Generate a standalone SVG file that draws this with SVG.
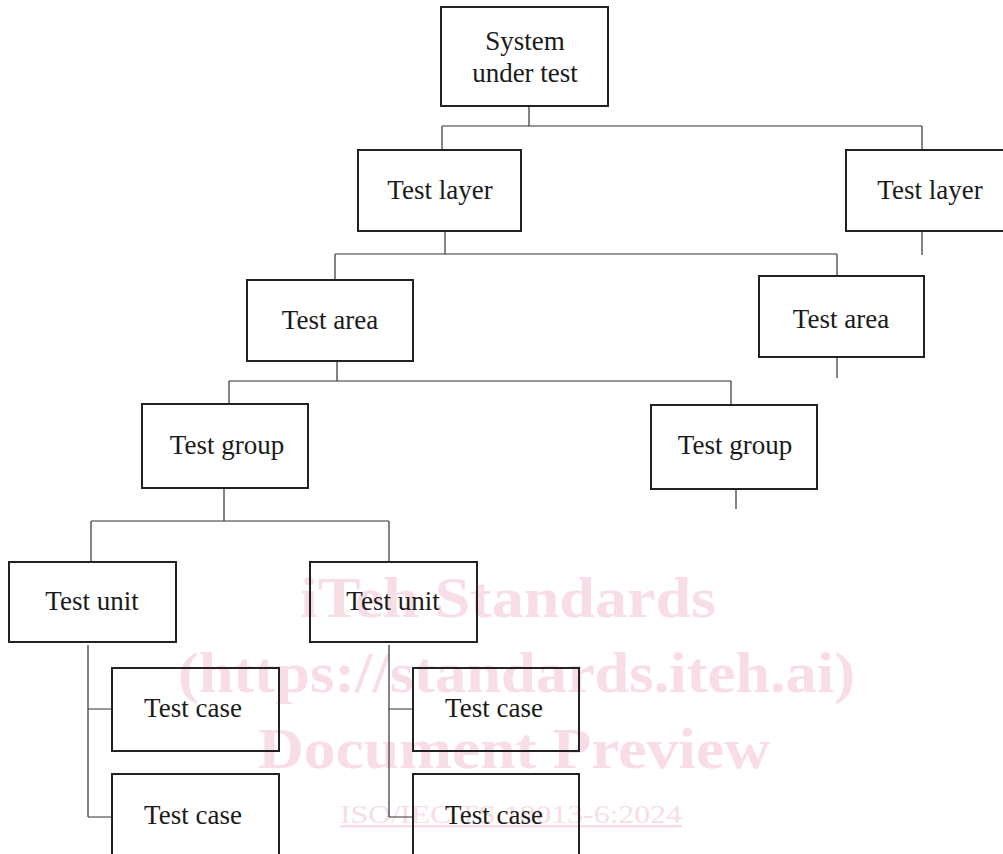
<svg xmlns="http://www.w3.org/2000/svg" width="1003" height="854" viewBox="0 0 1003 854">
<style>
.box{fill:none;stroke:#222;stroke-width:2}
.lbl{font-family:"Liberation Serif","Times New Roman",serif;font-size:27px;fill:#1a1a1a;text-anchor:middle}
.con{fill:none;stroke:#333;stroke-width:1.2}
.wm{font-family:"Liberation Serif",serif;font-weight:bold;font-size:58px;fill:#f8dde5}
.wm2{font-family:"Liberation Serif",serif;font-size:25px;fill:#f8dde5;text-decoration:underline}
</style>
<rect width="1003" height="854" fill="#fff"/>
<g id="watermark">
<text class="wm" x="300" y="617" textLength="416" lengthAdjust="spacingAndGlyphs">iTeh Standards</text>
<text class="wm" x="178" y="692" textLength="677" lengthAdjust="spacingAndGlyphs">(https://standards.iteh.ai)</text>
<text class="wm" x="258" y="768" textLength="512" lengthAdjust="spacingAndGlyphs">Document Preview</text>
<text class="wm2" x="340" y="823" textLength="342" lengthAdjust="spacingAndGlyphs">ISO/IEC TS 18013-6:2024</text>
</g>
<g id="connectors" class="con">
<path d="M529 107V126M442 126H922M442 126V150M922 126V150"/>
<path d="M445 231V254M335 254H837M335 254V280M837 254V276"/>
<path d="M922 231V255"/>
<path d="M337 361V381M229 381H731M229 381V404M731 381V405"/>
<path d="M837 357V378"/>
<path d="M224 488V521M91 521H389M91 521V562M389 521V562"/>
<path d="M736 489V509"/>
<path d="M88 645V817M88 709H112M88 817H112"/>
<path d="M389 645V817M389 709H413M389 817H413"/>
</g>
<g id="sut"><rect class="box" x="441" y="7" width="167" height="99"/><text class="lbl" x="525" y="50">System</text><text class="lbl" x="525" y="82">under test</text></g>
<g id="layer1"><rect class="box" x="358" y="150" width="163" height="81"/><text class="lbl" x="440" y="199">Test layer</text></g>
<g id="layer2"><rect class="box" x="846" y="150" width="170" height="81"/><text class="lbl" x="930" y="199">Test layer</text></g>
<g id="area1"><rect class="box" x="247" y="280" width="166" height="81"/><text class="lbl" x="330" y="329">Test area</text></g>
<g id="area2"><rect class="box" x="759" y="276" width="165" height="81"/><text class="lbl" x="841" y="328">Test area</text></g>
<g id="group1"><rect class="box" x="142" y="404" width="166" height="84"/><text class="lbl" x="227" y="454">Test group</text></g>
<g id="group2"><rect class="box" x="651" y="405" width="166" height="84"/><text class="lbl" x="735" y="454">Test group</text></g>
<g id="unit1"><rect class="box" x="9" y="562" width="167" height="80"/><text class="lbl" x="92" y="610">Test unit</text></g>
<g id="unit2"><rect class="box" x="310" y="562" width="167" height="80"/><text class="lbl" x="393" y="610">Test unit</text></g>
<g id="case1"><rect class="box" x="112" y="668" width="167" height="83"/><text class="lbl" x="193" y="717">Test case</text></g>
<g id="case2"><rect class="box" x="112" y="774" width="167" height="90"/><text class="lbl" x="193" y="824">Test case</text></g>
<g id="case3"><rect class="box" x="413" y="668" width="166" height="83"/><text class="lbl" x="494" y="717">Test case</text></g>
<g id="case4"><rect class="box" x="413" y="774" width="166" height="90"/><text class="lbl" x="494" y="824">Test case</text></g>
</svg>
